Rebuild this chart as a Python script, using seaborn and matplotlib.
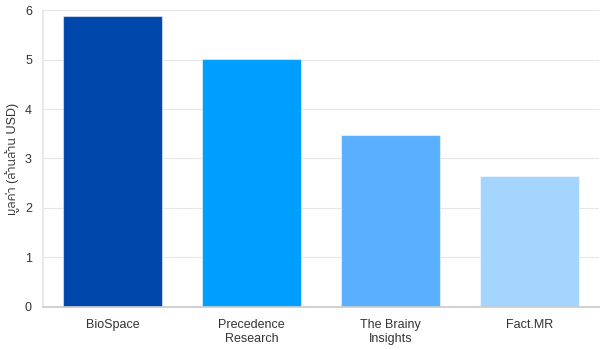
import matplotlib
matplotlib.use("Agg")
import matplotlib.pyplot as plt
from matplotlib import font_manager
from matplotlib.ft2font import FT2Font
import seaborn as sns
import pandas as pd

categories = ["BioSpace", "Precedence\nResearch", "The Brainy\nInsights", "Fact.MR"]
values = [5.88, 5.02, 3.47, 2.65]
colors = ["#0047AB", "#009EFF", "#5AAFFF", "#A3D5FF"]
y_ticks = [0, 1, 2, 3, 4, 5, 6]
y_label = "มูลค่า (ล้านล้าน USD)"


def find_thai_font():
    preferred = []
    others = []
    for f in font_manager.fontManager.ttflist:
        try:
            cm = FT2Font(f.fname).get_charmap()
        except Exception:
            continue
        if 0x0E21 in cm and 0x0E48 in cm:
            if "Sans" in f.name or "Thai" in f.name:
                preferred.append(f.name)
            else:
                others.append(f.name)
    names = preferred + others
    return names[0] if names else None


sns.set_theme(style="white")
thai = find_thai_font()
fams = ["Liberation Sans", "DejaVu Sans"]
if thai:
    fams = ["Liberation Sans", thai, "DejaVu Sans"]
plt.rcParams["font.family"] = fams

df = pd.DataFrame({"cat": categories, "val": values})

fig = plt.figure(figsize=(6, 3.5), dpi=100)
ax = fig.add_axes([0.0717, 0.1229, 0.9266, 0.8485])
sns.barplot(data=df, x="cat", y="val", hue="cat", palette=colors, legend=False,
            width=0.712, ax=ax, edgecolor=(1, 1, 1, 0.5), linewidth=0.8, saturation=1)

ax.set_xlim(-0.5, 3.5)
ax.set_ylim(0, 6)
ax.set_yticks(y_ticks)
ax.set_yticklabels([str(t) for t in y_ticks])
ax.grid(axis="y", color="#e6e6e6", linewidth=0.8)
ax.set_axisbelow(True)
for s in ["top", "right"]:
    ax.spines[s].set_visible(False)
ax.spines["left"].set_color("#e6e6e6")
ax.spines["bottom"].set_color("#cccccc")
ax.tick_params(axis="y", length=5, color="#e6e6e6", labelsize=9, labelcolor="#333333", pad=3)
ax.tick_params(axis="x", length=0, labelsize=9, labelcolor="#333333", pad=9)
ax.set_xlabel("")
ax.set_ylabel(y_label, fontsize=9, color="#333333", va="center")
ax.yaxis.set_label_coords(-0.055, 0.5)

fig.savefig("out.png", dpi=100)
